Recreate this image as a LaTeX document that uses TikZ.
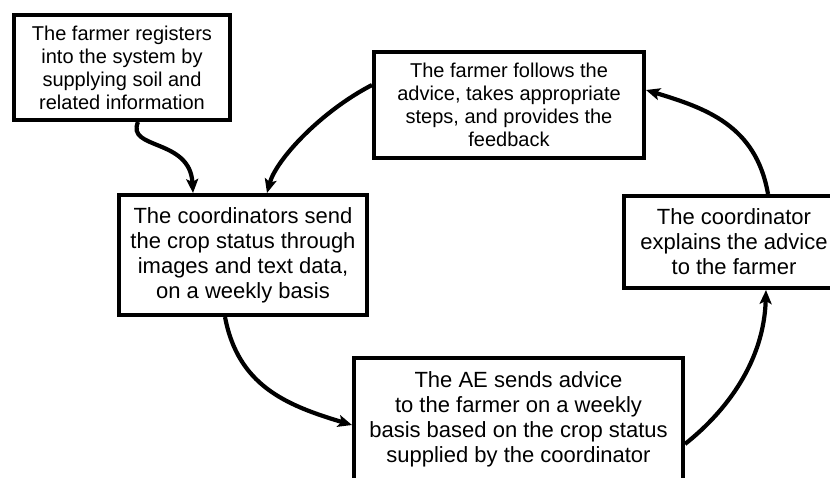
\documentclass[tikz,border=0pt]{standalone}
\usepackage{fontspec}
\setmainfont{Liberation Sans}
\usetikzlibrary{arrows.meta}
\tikzset{
  boxsmall/.style={draw, line width=4pt, inner sep=0pt, align=center,
    font=\fontsize{20}{23}\selectfont},
  boxbig/.style={draw, line width=4pt, inner sep=0pt, align=center,
    font=\fontsize{22}{25}\selectfont},
  flow/.style={line width=4.2pt, -{Stealth[length=14pt,width=12pt,inset=3pt]}}
}
\begin{document}
\begin{tikzpicture}[x=1pt,y=-1pt]
\useasboundingbox (0,0) rectangle (830,477);
\begin{scope}
\clip (0,0) rectangle (830,477);
\node[boxsmall, minimum width=216pt, minimum height=105pt] (reg) at (122,67.5)
  {The farmer registers\\into the system by\\supplying soil and\\related information};
\node[boxsmall, minimum width=270pt, minimum height=106pt] (follow) at (509,105)
  {The farmer follows the\\advice, takes appropriate\\steps, and provides the\\feedback};
\node[boxbig, minimum width=248pt, minimum height=120pt] (crop) at (243,255)
  {The coordinators send\\the crop status through\\images and text data,\\on a weekly basis};
\node[boxbig, minimum width=220pt, minimum height=92pt] (expl) at (734,242)
  {The coordinator\\explains the advice\\to the farmer};
\node[boxbig, minimum width=329pt, minimum height=123pt] (ae) at (518.5,419.5)
  {The AE sends advice\\to the farmer on a weekly\\basis based on the crop status\\supplied by the coordinator};

\draw[flow] ([xshift=16pt]reg.south) .. controls (126,150) and (190,138) .. ([xshift=-50pt]crop.north);
\draw[flow] ([yshift=20pt]follow.west) .. controls (320,112) and (276,160) .. ([xshift=24pt]crop.north);
\draw[flow] ([xshift=-18pt]crop.south) .. controls (238,385) and (285,405) .. ([yshift=-5.5pt]ae.west);
\draw[flow] ([yshift=-24.5pt]ae.east) .. controls (728,410) and (764,360) .. ([xshift=32pt]expl.south);
\draw[flow] ([xshift=34pt]expl.north) .. controls (756,125) and (705,108) .. ([yshift=15pt]follow.east);
\end{scope}
\end{tikzpicture}
\end{document}
